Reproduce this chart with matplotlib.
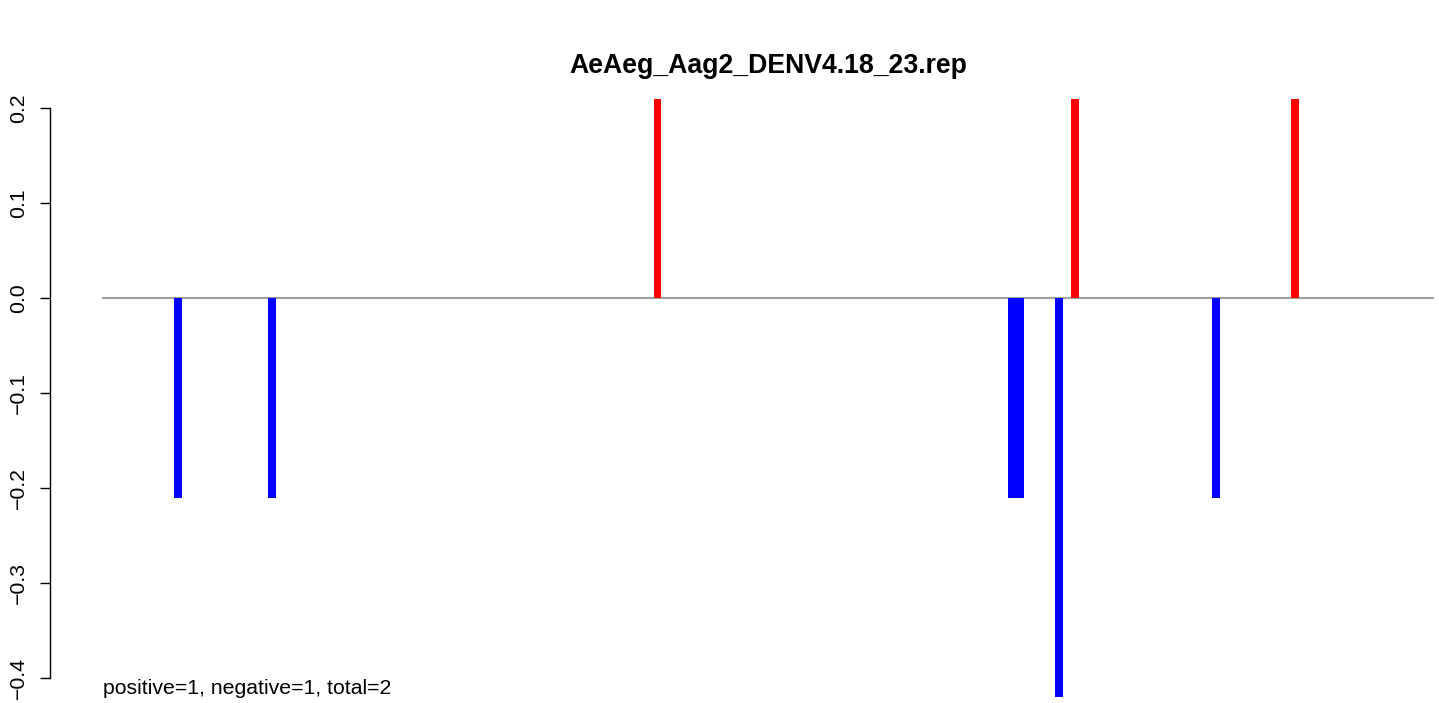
import matplotlib
matplotlib.use("Agg")
import matplotlib.pyplot as plt

plt.rcParams['font.family'] = ['Liberation Sans', 'DejaVu Sans']

# positions along the sequence and signed scores
neg_pos = [9.4, 21.1, 113.6, 114.6, 119.5, 139.1]
neg_val = [-0.21, -0.21, -0.21, -0.21, -0.42, -0.21]
pos_pos = [69.3, 121.5, 149.0]
pos_val = [0.21, 0.21, 0.21]
seq_range = [0, 166.25]
title = "AeAeg_Aag2_DENV4.18_23.rep"
note = "positive=1, negative=1, total=2"
yticks = [-0.4, -0.3, -0.2, -0.1, 0.0, 0.1, 0.2]

fig = plt.figure(figsize=(14.39, 7.03), dpi=100)
ax = fig.add_axes([50 / 1439, 6 / 703, 1389 / 1439, 598 / 703])

ax.plot(seq_range, [0, 0], color='#a0a0a0', lw=1.5, zorder=1)
ax.bar(neg_pos, neg_val, width=0.95, color='blue', zorder=2)
ax.bar(pos_pos, pos_val, width=0.95, color='red', zorder=2)

ax.set_xlim(-6.625, 167.0)
ax.set_ylim(-0.42, 0.21)

for s in ['top', 'right', 'bottom']:
    ax.spines[s].set_visible(False)
ax.spines['left'].set_bounds(-0.4, 0.2)
ax.spines['left'].set_linewidth(1.0)
ax.set_xticks([])
ax.set_yticks(yticks)
ax.set_yticklabels(["%.1f" % v if v >= 0 else "\u2212%.1f" % -v for v in yticks],
                   rotation=90, va='center', fontsize=15.3)
ax.tick_params(axis='y', length=7, width=1.0, pad=9)

ax.text(0, -0.417, note, ha='left', va='baseline', fontsize=15.3)
fig.text(768 / 1439, 1 - 66 / 703, title, ha='center', va='center',
         fontsize=19.2, fontweight='bold')

fig.savefig("out.png", dpi=100)
